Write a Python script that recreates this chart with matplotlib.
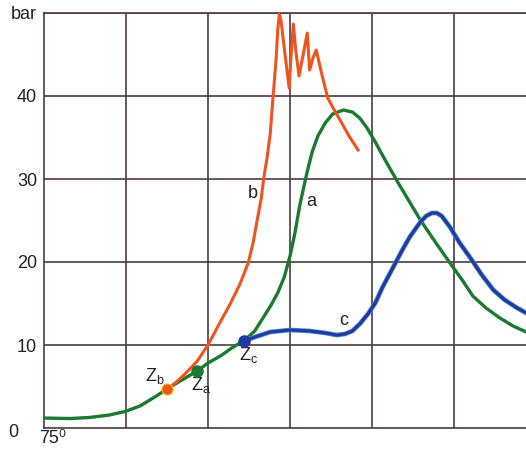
import matplotlib.pyplot as plt

plt.rcParams['font.family'] = ['Liberation Sans', 'DejaVu Sans']

# x in grid divisions from the start (75 deg), pressure in bar
x_a = [0.00, 0.32, 0.56, 0.80, 0.99, 1.17, 1.35, 1.50, 1.66, 1.87, 2.00, 2.15, 2.29,
       2.45, 2.57, 2.67, 2.77, 2.85, 2.93, 3.00, 3.06, 3.12, 3.20, 3.27, 3.34, 3.43,
       3.52, 3.65, 3.76, 3.85, 3.94, 4.04, 4.16, 4.32, 4.59, 4.78, 4.96, 5.10, 5.23,
       5.39, 5.56, 5.72, 5.88]
p_a = [1.20, 1.14, 1.27, 1.57, 1.99, 2.65, 3.73, 4.70, 5.66, 6.87, 7.83, 8.67, 9.64,
       10.60, 11.69, 13.25, 14.82, 16.27, 18.19, 20.72, 23.49, 26.87, 30.48, 33.25,
       35.18, 36.75, 37.83, 38.31, 38.07, 37.35, 36.14, 34.46, 32.29, 29.52, 25.06,
       22.29, 19.76, 17.83, 15.90, 14.46, 13.25, 12.29, 11.57]

x_b = [1.50, 1.60, 1.72, 1.87, 2.00, 2.13, 2.27, 2.39, 2.49, 2.55, 2.60, 2.65, 2.68,
       2.72, 2.76, 2.79, 2.83, 2.85, 2.87, 2.89, 2.94, 2.99, 3.01, 3.04, 3.07, 3.11,
       3.16, 3.21, 3.24, 3.28, 3.32, 3.39, 3.46, 3.54, 3.61, 3.72, 3.83]
p_b = [4.70, 5.42, 6.51, 8.07, 10.00, 12.41, 14.94, 17.35, 19.88, 22.29, 25.06,
       27.71, 30.12, 32.53, 35.54, 39.52, 44.34, 47.95, 49.88, 49.16, 44.94, 40.96,
       44.34, 48.67, 45.54, 42.41, 44.94, 47.59, 43.13, 44.58, 45.54, 42.53, 39.76,
       38.31, 37.11, 35.18, 33.49]

x_c = [2.44, 2.57, 2.76, 3.00, 3.24, 3.43, 3.57, 3.67, 3.76, 3.85, 3.95, 4.04, 4.13,
       4.26, 4.37, 4.46, 4.59, 4.66, 4.73, 4.79, 4.85, 4.95, 5.07, 5.20, 5.34, 5.48,
       5.62, 5.77, 5.88]
p_c = [10.48, 10.96, 11.57, 11.81, 11.69, 11.45, 11.20, 11.33, 11.69, 12.53, 13.73,
       15.06, 16.99, 19.40, 21.45, 23.01, 24.82, 25.54, 25.90, 25.90, 25.54, 24.22,
       22.29, 20.48, 18.43, 16.63, 15.42, 14.46, 13.86]

ytick_vals = [0, 10, 20, 30, 40, 50]
ytick_labels = ['', '10', '20', '30', '40', 'bar']

green = '#1c7a2e'
orange = '#f0541e'
blue = '#1f3c9c'
gridc = '#4b3b3e'
txt = '#222222'

fig = plt.figure(figsize=(5.26, 4.5), dpi=100)
ax = fig.add_axes([44 / 526, 22 / 450, 482 / 526, 415 / 450])
ax.set_xlim(0, 5.878)
ax.set_ylim(0, 50)

for v in range(1, 6):
    ax.axvline(v, color=gridc, lw=1.2, zorder=1)
for v in ytick_vals[1:]:
    ax.axhline(v, color=gridc, lw=1.2, zorder=1)

ax.spines['right'].set_visible(False)
for s in ['left', 'bottom', 'top']:
    ax.spines[s].set_color(gridc)
    ax.spines[s].set_linewidth(1.2)

ax.plot(x_a, p_a, color=green, lw=2.4, solid_joinstyle='round', zorder=3)
ax.plot(x_b, p_b, color=orange, lw=2.2, solid_joinstyle='round', zorder=4, clip_on=False)
ax.plot(x_c, p_c, color='#4d86d6', lw=3.4, solid_joinstyle='round', zorder=3)
ax.plot(x_c, p_c, color=blue, lw=2.2, solid_joinstyle='round', zorder=3)

ax.plot(x_b[0], p_b[0], 'o', color=orange, ms=8, mec='#f5c000', mew=0.8, zorder=5)
ax.plot(x_a[9], p_a[9], 'o', color=green, ms=8, zorder=5)
ax.plot(x_c[0], p_c[0], 'o', color=blue, ms=8, zorder=5)

ax.set_xticks([])
ax.set_yticks(ytick_vals)
ax.set_yticklabels(ytick_labels, fontsize=13, color=txt)
ax.tick_params(axis='y', length=0, pad=5)

fs = 13
ax.text(-0.37, -0.6, '0', fontsize=fs, color=txt, ha='center', va='center')
ax.text(0.1, -1.3, '75\u2070', fontsize=fs, color=txt, ha='center', va='center')
ax.text(1.35, 6.3, 'Z$_\\mathregular{b}$', fontsize=fs, color=txt, ha='center', va='center')
ax.text(1.92, 5.2, 'Z$_\\mathregular{a}$', fontsize=fs, color=txt, ha='center', va='center')
ax.text(2.50, 8.8, 'Z$_\\mathregular{c}$', fontsize=fs, color=txt, ha='center', va='center')
ax.text(3.26, 27.3, 'a', fontsize=fs, color=txt, ha='center', va='center')
ax.text(2.55, 28.3, 'b', fontsize=fs, color=txt, ha='center', va='center')
ax.text(3.65, 13.0, 'c', fontsize=fs, color=txt, ha='center', va='center')

fig.savefig('out.png', dpi=100)
